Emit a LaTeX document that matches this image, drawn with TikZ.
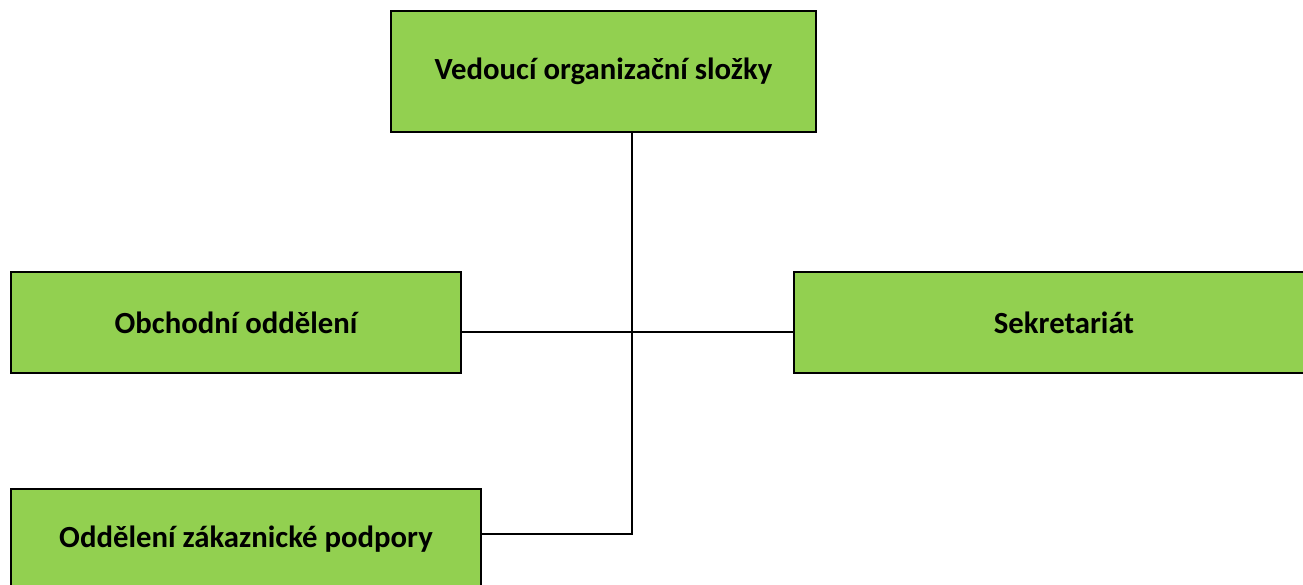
\documentclass[tikz,border=0pt]{standalone}
\usepackage{fontspec}
\setmainfont{Carlito}
\usetikzlibrary{positioning}
\definecolor{unitgreen}{HTML}{92D050}

\begin{document}
\begin{tikzpicture}[
x=0.02cm,
y=-0.02cm,
unit/.style={
  draw=black,
  fill=unitgreen,
  line width=1.2pt,
  inner sep=0pt,
  font=\fontsize{17.5}{21}\selectfont\bfseries
  },
link/.style={
  draw=black,
  line width=1pt
  }
]
\useasboundingbox (0,0) rectangle (1303,585);

\node[unit, minimum width=425*0.02cm, minimum height=121*0.02cm] (head) at (603.5,71.5) {Vedoucí organizační složky};
\node[unit, minimum width=450*0.02cm, minimum height=101*0.02cm] (trade) at (236,322.5) {Obchodní oddělení};
\node[unit, minimum width=540*0.02cm, minimum height=101*0.02cm] (office) at (1064,322.5) {Sekretariát};
\node[unit, minimum width=470*0.02cm, minimum height=100*0.02cm] (support) at (246,539) {Oddělení zákaznické podpory};

\coordinate (hub) at (631.7,331.7);
\coordinate (foot) at (631.7,534);

% trunk and branches
\draw[link] (head.south -| hub) -- (foot) -- (support.east |- foot);
\draw[link] (trade.east |- hub) -- (office.west |- hub);
\end{tikzpicture}
\end{document}
